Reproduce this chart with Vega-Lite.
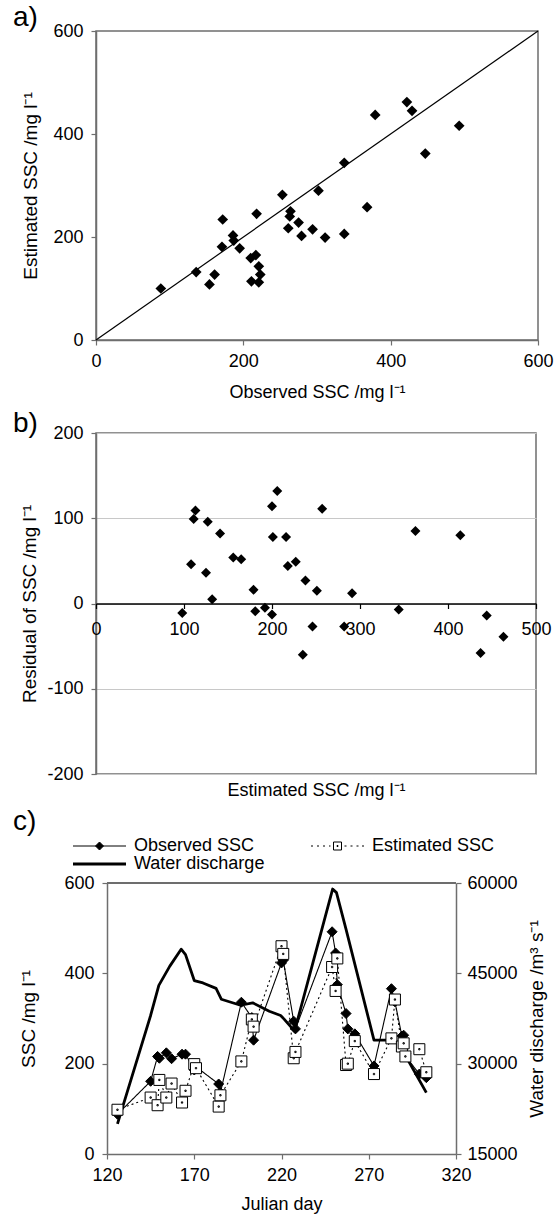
{
  "$schema": "https://vega.github.io/schema/vega-lite/v6.json",
  "background": "white",
  "autosize": {"type": "pad"},
  "padding": {"left": 12, "top": 2, "right": 5, "bottom": 2},
  "config": {
    "font": "Liberation Sans",
    "view": {"stroke": "#6e6e6e", "strokeWidth": 1.5},
    "axis": {"labelFontSize": 18, "titleFontSize": 18, "labelColor": "black", "titleColor": "black", "titleFontWeight": "normal", "domainColor": "#6e6e6e", "tickColor": "#6e6e6e", "domainWidth": 1.5, "tickWidth": 1.2, "tickSize": 5, "grid": false, "labelPadding": 7, "labelFont": "Liberation Sans", "titleFont": "Liberation Sans", "labelFlush": false, "labelOverlap": false},
    "title": {"fontSize": 28, "font": "Liberation Sans", "fontWeight": "normal", "anchor": "start", "frame": "group", "color": "black"}
  },
  "datasets": {
    "diag": [{"obs": 0, "est": 0}, {"obs": 600, "est": 600}],
    "scatterA": [
      {"obs": 88, "est": 100}, {"obs": 136, "est": 132}, {"obs": 154, "est": 108}, {"obs": 161, "est": 127},
      {"obs": 172, "est": 234}, {"obs": 171, "est": 181}, {"obs": 186, "est": 203}, {"obs": 187, "est": 193},
      {"obs": 195, "est": 178}, {"obs": 210, "est": 159}, {"obs": 217, "est": 165}, {"obs": 211, "est": 114},
      {"obs": 218, "est": 245}, {"obs": 221, "est": 143}, {"obs": 223, "est": 127}, {"obs": 221, "est": 112},
      {"obs": 253, "est": 282}, {"obs": 261, "est": 217}, {"obs": 263, "est": 240}, {"obs": 264, "est": 250},
      {"obs": 275, "est": 228}, {"obs": 279, "est": 202}, {"obs": 294, "est": 215}, {"obs": 302, "est": 290},
      {"obs": 311, "est": 199}, {"obs": 337, "est": 344}, {"obs": 337, "est": 206}, {"obs": 368, "est": 258},
      {"obs": 379, "est": 437}, {"obs": 422, "est": 462}, {"obs": 429, "est": 445}, {"obs": 447, "est": 362},
      {"obs": 493, "est": 416}
    ],
    "resid": [
      {"est": 98, "resid": -11}, {"est": 108, "resid": 46}, {"est": 111, "resid": 99}, {"est": 113, "resid": 109},
      {"est": 125, "resid": 36}, {"est": 127, "resid": 96}, {"est": 132, "resid": 5}, {"est": 141, "resid": 82},
      {"est": 156, "resid": 54}, {"est": 165, "resid": 52}, {"est": 179, "resid": 16}, {"est": 181, "resid": -9},
      {"est": 192, "resid": -5}, {"est": 200, "resid": 114}, {"est": 200, "resid": -13}, {"est": 201, "resid": 78},
      {"est": 206, "resid": 132}, {"est": 216, "resid": 78}, {"est": 218, "resid": 44}, {"est": 227, "resid": 49},
      {"est": 235, "resid": -60}, {"est": 238, "resid": 27}, {"est": 246, "resid": -27}, {"est": 251, "resid": 15},
      {"est": 257, "resid": 111}, {"est": 282, "resid": -27}, {"est": 291, "resid": 12}, {"est": 344, "resid": -7},
      {"est": 363, "resid": 85}, {"est": 414, "resid": 80}, {"est": 437, "resid": -58}, {"est": 444, "resid": -14},
      {"est": 463, "resid": -39}
    ],
    "ssc": [
      {"day": 126, "series": "Observed SSC", "ssc": 88}, {"day": 145, "series": "Observed SSC", "ssc": 161},
      {"day": 149, "series": "Observed SSC", "ssc": 216}, {"day": 150, "series": "Observed SSC", "ssc": 212},
      {"day": 154, "series": "Observed SSC", "ssc": 224}, {"day": 157, "series": "Observed SSC", "ssc": 211},
      {"day": 163, "series": "Observed SSC", "ssc": 221}, {"day": 165, "series": "Observed SSC", "ssc": 221},
      {"day": 170, "series": "Observed SSC", "ssc": 186}, {"day": 171, "series": "Observed SSC", "ssc": 193},
      {"day": 184, "series": "Observed SSC", "ssc": 155}, {"day": 185, "series": "Observed SSC", "ssc": 136},
      {"day": 197, "series": "Observed SSC", "ssc": 336}, {"day": 203, "series": "Observed SSC", "ssc": 302},
      {"day": 204, "series": "Observed SSC", "ssc": 252}, {"day": 220, "series": "Observed SSC", "ssc": 423},
      {"day": 221, "series": "Observed SSC", "ssc": 429}, {"day": 227, "series": "Observed SSC", "ssc": 294},
      {"day": 228, "series": "Observed SSC", "ssc": 277}, {"day": 249, "series": "Observed SSC", "ssc": 492},
      {"day": 251, "series": "Observed SSC", "ssc": 445}, {"day": 252, "series": "Observed SSC", "ssc": 375},
      {"day": 257, "series": "Observed SSC", "ssc": 311}, {"day": 258, "series": "Observed SSC", "ssc": 277},
      {"day": 262, "series": "Observed SSC", "ssc": 266}, {"day": 273, "series": "Observed SSC", "ssc": 195},
      {"day": 283, "series": "Observed SSC", "ssc": 366}, {"day": 285, "series": "Observed SSC", "ssc": 337},
      {"day": 289, "series": "Observed SSC", "ssc": 261}, {"day": 290, "series": "Observed SSC", "ssc": 263},
      {"day": 291, "series": "Observed SSC", "ssc": 217}, {"day": 299, "series": "Observed SSC", "ssc": 177},
      {"day": 303, "series": "Observed SSC", "ssc": 169},
      {"day": 126, "series": "Estimated SSC", "ssc": 98}, {"day": 145, "series": "Estimated SSC", "ssc": 125},
      {"day": 149, "series": "Estimated SSC", "ssc": 108}, {"day": 150, "series": "Estimated SSC", "ssc": 164},
      {"day": 154, "series": "Estimated SSC", "ssc": 125}, {"day": 157, "series": "Estimated SSC", "ssc": 156},
      {"day": 163, "series": "Estimated SSC", "ssc": 114}, {"day": 165, "series": "Estimated SSC", "ssc": 140},
      {"day": 170, "series": "Estimated SSC", "ssc": 199}, {"day": 171, "series": "Estimated SSC", "ssc": 190},
      {"day": 184, "series": "Estimated SSC", "ssc": 105}, {"day": 185, "series": "Estimated SSC", "ssc": 130},
      {"day": 197, "series": "Estimated SSC", "ssc": 205}, {"day": 203, "series": "Estimated SSC", "ssc": 298},
      {"day": 204, "series": "Estimated SSC", "ssc": 282}, {"day": 220, "series": "Estimated SSC", "ssc": 460},
      {"day": 221, "series": "Estimated SSC", "ssc": 443}, {"day": 227, "series": "Estimated SSC", "ssc": 212},
      {"day": 228, "series": "Estimated SSC", "ssc": 226}, {"day": 249, "series": "Estimated SSC", "ssc": 414},
      {"day": 251, "series": "Estimated SSC", "ssc": 361}, {"day": 252, "series": "Estimated SSC", "ssc": 433},
      {"day": 257, "series": "Estimated SSC", "ssc": 197}, {"day": 258, "series": "Estimated SSC", "ssc": 200},
      {"day": 262, "series": "Estimated SSC", "ssc": 250}, {"day": 273, "series": "Estimated SSC", "ssc": 177},
      {"day": 283, "series": "Estimated SSC", "ssc": 256}, {"day": 285, "series": "Estimated SSC", "ssc": 342},
      {"day": 289, "series": "Estimated SSC", "ssc": 238}, {"day": 290, "series": "Estimated SSC", "ssc": 245},
      {"day": 291, "series": "Estimated SSC", "ssc": 216}, {"day": 299, "series": "Estimated SSC", "ssc": 232},
      {"day": 303, "series": "Estimated SSC", "ssc": 181}
    ],
    "flow": [
      {"day": 126, "series": "Water discharge", "q": 20000}, {"day": 145, "series": "Water discharge", "q": 38000},
      {"day": 149.7, "series": "Water discharge", "q": 43000}, {"day": 156, "series": "Water discharge", "q": 46200},
      {"day": 162.5, "series": "Water discharge", "q": 49000}, {"day": 165, "series": "Water discharge", "q": 48100},
      {"day": 170, "series": "Water discharge", "q": 43800}, {"day": 175, "series": "Water discharge", "q": 43400},
      {"day": 182.5, "series": "Water discharge", "q": 42500}, {"day": 185.5, "series": "Water discharge", "q": 40700},
      {"day": 196.5, "series": "Water discharge", "q": 39700}, {"day": 203.5, "series": "Water discharge", "q": 40100},
      {"day": 213, "series": "Water discharge", "q": 38700}, {"day": 219.5, "series": "Water discharge", "q": 38000},
      {"day": 221.5, "series": "Water discharge", "q": 37400}, {"day": 227.5, "series": "Water discharge", "q": 35400},
      {"day": 249.3, "series": "Water discharge", "q": 59000}, {"day": 251.5, "series": "Water discharge", "q": 58400},
      {"day": 257, "series": "Water discharge", "q": 52300}, {"day": 273, "series": "Water discharge", "q": 33900},
      {"day": 285, "series": "Water discharge", "q": 33900}, {"day": 289, "series": "Water discharge", "q": 32400},
      {"day": 303, "series": "Water discharge", "q": 25200}
    ]
  },
  "vconcat": [
    {
      "title": {"text": "a)", "dx": -83, "offset": -9.5},
      "width": 442,
      "height": 309,
      "encoding": {
        "x": {"field": "obs", "type": "quantitative", "scale": {"domain": [0, 600], "nice": false},
              "axis": {"values": [0, 200, 400, 600], "title": "Observed SSC /mg l⁻¹", "titleY": 52, "titleBaseline": "middle"}},
        "y": {"field": "est", "type": "quantitative", "scale": {"domain": [0, 600], "nice": false},
              "axis": {"values": [0, 200, 400, 600], "labelPadding": 8, "title": "Estimated SSC /mg l⁻¹", "titleFontSize": 19, "titleX": -66, "titleY": 154.5, "titleBaseline": "middle", "titleAngle": 270}}
      },
      "layer": [
        {"data": {"name": "diag"}, "mark": {"type": "line", "color": "black", "strokeWidth": 1.2}},
        {"data": {"name": "scatterA"}, "mark": {"type": "point", "shape": "diamond", "filled": true, "color": "black", "size": 115, "opacity": 1}}
      ]
    },
    {
      "title": {"text": "b)", "dx": -83, "offset": -14},
      "width": 440,
      "height": 341,
      "data": {"name": "resid"},
      "mark": {"type": "point", "shape": "diamond", "filled": true, "color": "black", "size": 100, "opacity": 1},
      "encoding": {
        "x": {"field": "est", "type": "quantitative", "scale": {"domain": [0, 500], "nice": false},
              "axis": {"values": [0, 100, 200, 300, 400, 500], "offset": -170.5, "domainColor": "black", "tickColor": "black", "labelPadding": 12, "zindex": 1, "title": "Estimated SSC /mg l⁻¹", "titleY": 187, "titleBaseline": "middle"}},
        "y": {"field": "resid", "type": "quantitative", "scale": {"domain": [-200, 200], "nice": false},
              "axis": {"values": [-200, -100, 0, 100, 200], "grid": true, "gridColor": "#c8c8c8", "gridWidth": 1, "labelExpr": "'' + datum.value", "labelPadding": 8, "title": "Residual of SSC /mg l⁻¹", "titleFontSize": 19, "titleX": -67, "titleY": 170.5, "titleBaseline": "middle", "titleAngle": 270}}
      }
    },
    {
      "title": {"text": "c)", "dx": -83, "offset": 31},
      "width": 360,
      "height": 287,
      "view": {"stroke": null},
      "resolve": {"scale": {"y": "independent"}},
      "layer": [
        {
          "data": {"name": "flow"},
          "mark": {"type": "line", "color": "black", "strokeWidth": 2.8, "strokeJoin": "round"},
          "encoding": {
            "x": {"field": "day", "type": "quantitative", "scale": {"domain": [120, 320], "range": [11, 360], "nice": false},
                  "axis": {"values": [120, 170, 220, 270, 320], "title": "Julian day", "titleY": 50, "titleBaseline": "middle"}},
            "y": {"field": "q", "type": "quantitative", "scale": {"domain": [15000, 60000], "range": [287, 16], "nice": false},
                  "axis": {"orient": "right", "values": [15000, 30000, 45000, 60000], "format": "d", "labelPadding": 6, "title": "Water discharge /m³ s⁻¹", "titleFontSize": 19, "titleX": 80, "titleY": 151.5, "titleBaseline": "middle", "titleAngle": 270}},
            "color": {"field": "series", "type": "nominal",
                      "scale": {"domain": ["Observed SSC", "Water discharge", "Estimated SSC"], "range": ["black", "black", "black"]},
                      "legend": {
                        "title": null, "orient": "none", "legendX": -27, "legendY": 806, "columns": 2, "columnPadding": 42, "rowPadding": -1, "padding": 0,
                        "symbolSize": 100, "symbolOpacity": 1, "labelFontSize": 18, "labelFont": "Liberation Sans", "labelColor": "black", "labelOffset": 47,
                        "encode": {"symbols": {"update": {
                          "shape": {"signal": "datum.value === 'Observed SSC' ? 'M-1,0H9.6M4.3,-0.8L5.1,0L4.3,0.8L3.5,0Z' : (datum.value === 'Estimated SSC' ? 'M-1,0H-0.6M0.2,0H0.6M1.4,0H1.8M2.6,0H2.9M5.7,0H6.1M6.9,0H7.3M8.1,0H8.5M9.2,0H9.6M3.5,-0.8H5.1V0.8H3.5ZM4.2,-0.1H4.4V0.1H4.2Z' : 'M-1,0H9.6')"},
                          "fill": {"signal": "datum.value === 'Observed SSC' ? 'black' : 'white'"},
                          "stroke": {"value": "black"},
                          "strokeWidth": {"signal": "datum.value === 'Water discharge' ? 3 : 1"},
                          "opacity": {"value": 1}
                        }}}
                      }}
          }
        },
        {
          "data": {"name": "ssc"},
          "encoding": {
            "x": {"field": "day", "type": "quantitative", "scale": {"domain": [120, 320], "range": [11, 360], "nice": false}},
            "y": {"field": "ssc", "type": "quantitative", "scale": {"domain": [0, 600], "range": [287, 16], "nice": false},
                  "axis": {"orient": "left", "offset": -11, "values": [0, 200, 400, 600], "labelPadding": 8, "title": "SSC /mg l⁻¹", "titleFontSize": 19, "titleX": -79, "titleY": 151.5, "titleBaseline": "middle", "titleAngle": 270}}
          },
          "layer": [
            {
              "mark": {"type": "rule", "color": "#6e6e6e", "strokeWidth": 1.5},
              "encoding": {
                "x": {"datum": 120, "type": "quantitative"},
                "x2": {"datum": 320},
                "y": {"datum": 600, "type": "quantitative"}
              }
            },
            {
              "mark": {"type": "line", "strokeWidth": 1.1},
              "encoding": {
                "color": {"field": "series", "type": "nominal", "scale": {"domain": ["Observed SSC", "Water discharge", "Estimated SSC"], "range": ["black", "black", "black"]}},
                "strokeDash": {"field": "series", "type": "nominal", "scale": {"domain": ["Observed SSC", "Estimated SSC"], "range": [[1, 0], [2, 3]]}, "legend": null}
              }
            },
            {
              "mark": {"type": "point", "stroke": "black", "strokeWidth": 1, "opacity": 1},
              "encoding": {
                "shape": {"field": "series", "type": "nominal", "scale": {"domain": ["Observed SSC", "Estimated SSC"], "range": ["diamond", "M-1,-1H1V1H-1ZM-0.12,-0.12H0.12V0.12H-0.12Z"]}, "legend": null},
                "fill": {"field": "series", "type": "nominal", "scale": {"domain": ["Observed SSC", "Estimated SSC"], "range": ["black", "white"]}, "legend": null},
                "size": {"field": "series", "type": "nominal", "scale": {"domain": ["Observed SSC", "Estimated SSC"], "range": [100, 121]}, "legend": null}
              }
            }
          ]
        }
      ]
    }
  ],
  "spacing": 93,
  "bounds": "flush"
}
